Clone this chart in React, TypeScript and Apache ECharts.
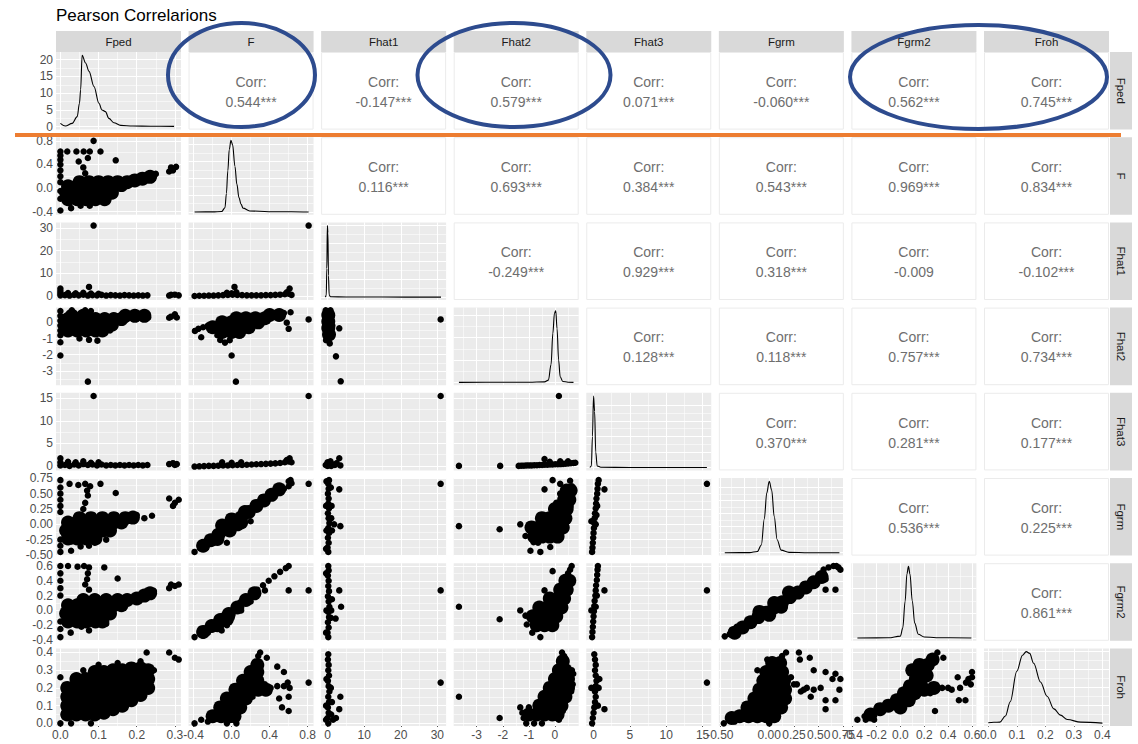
import React, { useEffect, useRef } from 'react';
import * as echarts from 'echarts';

// ---------------- data ----------------
const VARS = ['Fped', 'F', 'Fhat1', 'Fhat2', 'Fhat3', 'Fgrm', 'Fgrm2', 'Froh'];
const AXIS_MIN = [-0.0115, -0.453, -1.75, -3.88, -1.0, -0.51, -0.41, -0.015];
const AXIS_MAX = [0.316, 0.862, 32.4, 0.91, 16.2, 0.755, 0.637, 0.423];
const MAJOR_BREAKS = [
  [0, 0.1, 0.2, 0.3],
  [-0.4, 0, 0.4, 0.8],
  [0, 10, 20, 30],
  [-3, -2, -1, 0],
  [0, 5, 10, 15],
  [-0.5, -0.25, 0, 0.25, 0.5, 0.75],
  [-0.4, -0.2, 0, 0.2, 0.4, 0.6],
  [0, 0.1, 0.2, 0.3, 0.4],
];
const MINOR_BREAKS = [
  [0.05, 0.15, 0.25],
  [-0.2, 0.2, 0.6],
  [5, 15, 25],
  [-3.5, -2.5, -1.5, -0.5, 0.5],
  [2.5, 7.5, 12.5],
  [-0.375, -0.125, 0.125, 0.375, 0.625],
  [-0.3, -0.1, 0.1, 0.3, 0.5],
  [0.05, 0.15, 0.25, 0.35],
];
const TICK_LABELS = [
  ['0.0', '0.1', '0.2', '0.3'],
  ['-0.4', '0.0', '0.4', '0.8'],
  ['0', '10', '20', '30'],
  ['-3', '-2', '-1', '0'],
  ['0', '5', '10', '15'],
  ['-0.50', '-0.25', '0.00', '0.25', '0.50', '0.75'],
  ['-0.4', '-0.2', '0.0', '0.2', '0.4', '0.6'],
  ['0.0', '0.1', '0.2', '0.3', '0.4'],
];
const DENS_MAJOR = [[0, 5, 10, 15, 20], [0, 2, 4, 6, 8], [0, 0.5, 1, 1.5, 2], [0, 1, 2, 3], [0, 0.5, 1, 1.5, 2], [0, 1, 2, 3, 4, 5], [0, 2, 4], [0, 2, 4, 6, 8]];
const DENS_MINOR = [[2.5, 7.5, 12.5, 17.5], [1, 3, 5, 7], [0.25, 0.75, 1.25, 1.75], [0.5, 1.5, 2.5], [0.25, 0.75, 1.25, 1.75], [0.5, 1.5, 2.5, 3.5, 4.5], [1, 3, 5], [1, 3, 5, 7]];
const FPED_DENS_LABELS = ['0', '5', '10', '15', '20'];

// correlations (row variable, column variable)
const CORR_ROW0 = ['0.544***', '-0.147***', '0.579***', '0.071***', '-0.060***', '0.562***', '0.745***'];
const CORR_ROW1 = ['0.116***', '0.693***', '0.384***', '0.543***', '0.969***', '0.834***'];
const CORR_ROW2 = ['-0.249***', '0.929***', '0.318***', '-0.009', '-0.102***'];
const CORR_ROW3 = ['0.128***', '0.118***', '0.757***', '0.734***'];
const CORR_ROW4 = ['0.370***', '0.281***', '0.177***'];
const CORR_ROW5 = ['0.536***', '0.225***'];
const CORR_ROW6 = ['0.861***'];

// densities
const DENS_FPED = [[0, 1.0], [0.013, 0.2], [0.031, 1.0], [0.044, 3.0], [0.05, 7], [0.053, 11], [0.057, 21.3], [0.066, 19], [0.075, 16.5], [0.088, 12], [0.101, 7], [0.109, 5], [0.118, 4.5], [0.127, 2.5], [0.14, 1.2], [0.158, 0.4], [0.19, 0.2], [0.237, 0.15], [0.298, 0.1]];
const DENS_F = [[-0.39, 0], [-0.2, 0.01], [-0.105, 0.05], [-0.07, 0.5], [-0.055, 2.2], [-0.04, 4.9], [-0.025, 7.4], [-0.007, 8.5], [0.01, 8.0], [0.035, 5.4], [0.055, 3.3], [0.077, 1.7], [0.1, 0.9], [0.12, 0.45], [0.19, 0.12], [0.39, 0.03], [0.63, 0.03], [0.81, 0]];
const DENS_FHAT1 = [[-0.6, 0], [-0.35, 0.05], [-0.2, 0.8], [-0.05, 2.0], [0.1, 1.8], [0.25, 0.6], [0.45, 0.06], [0.8, 0.01], [5, 0.004], [15, 0.002], [31, 0]];
const DENS_FHAT2 = [[-3.68, 0], [-2, 0.002], [-1, 0.004], [-0.4, 0.02], [-0.25, 0.1], [-0.15, 0.8], [-0.08, 2.2], [-0.02, 3.1], [0.03, 3.2], [0.08, 2.4], [0.14, 1.0], [0.2, 0.25], [0.3, 0.04], [0.5, 0.005], [0.71, 0]];
const DENS_FHAT3 = [[-0.5, 0], [-0.3, 0.05], [-0.15, 1.0], [0, 2.3], [0.15, 1.8], [0.3, 0.5], [0.5, 0.05], [1, 0.01], [5, 0.003], [15.6, 0]];
const DENS_FGRM = [[-0.45, 0], [-0.2, 0.01], [-0.12, 0.1], [-0.08, 0.6], [-0.05, 2.6], [-0.025, 4.6], [0, 5.5], [0.025, 4.8], [0.05, 2.8], [0.08, 1.0], [0.12, 0.2], [0.2, 0.03], [0.4, 0.0], [0.71, 0]];
const DENS_FGRM2 = [[-0.36, 0], [-0.1, 0.01], [0, 0.15], [0.02, 0.8], [0.04, 3.0], [0.055, 5.2], [0.068, 5.8], [0.08, 5.2], [0.1, 3.0], [0.12, 1.2], [0.15, 0.3], [0.2, 0.08], [0.3, 0.02], [0.595, 0]];
const DENS_FROH = [[0, 0.05], [0.02, 0.1], [0.041, 0.11], [0.06, 0.8], [0.077, 2.4], [0.1, 5.8], [0.12, 7.6], [0.133, 8], [0.145, 7.8], [0.159, 6.7], [0.183, 4.6], [0.206, 3.0], [0.23, 1.6], [0.253, 0.9], [0.277, 0.4], [0.324, 0.11], [0.4, 0]];

// scatter points: PTS_<y>_<x> (single points), CORE_<y>_<x> (dense interior)
const PTS_F_FPED = [[0, 0.62], [0, 0.55], [0, 0.48], [0, 0.4], [0, 0.3], [0, 0.2], [0, 0.1], [0, -0.05], [0, -0.18], [0, -0.38], [0.018, 0.62], [0.042, 0.62], [0.061, 0.62], [0.077, 0.62], [0.105, 0.62], [0.087, 0.8], [0.072, 0.51], [0.048, 0.45], [0.06, 0.35], [0.065, 0.25], [0.145, 0.47], [0.028, -0.34], [0.053, -0.3], [0.077, -0.3], [0.04, -0.22], [0.29, 0.35], [0.295, 0.3], [0.303, 0.36], [0.285, 0.28], [0.25, 0.24], [0.235, 0.25], [0.22, 0.2], [0.2, 0.14], [0.18, 0.1], [0.16, 0.06], [0.12, -0.12], [0.1, -0.2]];
const CORE_F_FPED = [[0.02, -0.19], [0.044, -0.19], [0.068, -0.19], [0.092, -0.19], [0.116, -0.19], [0.015, -0.08], [0.04, -0.08], [0.064, -0.08], [0.088, -0.08], [0.112, -0.08], [0.135, -0.08], [0.02, 0.03], [0.044, 0.03], [0.068, 0.03], [0.092, 0.03], [0.116, 0.03], [0.14, 0.03], [0.16, 0.05], [0.05, 0.1], [0.075, 0.1], [0.1, 0.1], [0.125, 0.1], [0.15, 0.1], [0.175, 0.1], [0.195, 0.13], [0.215, 0.16], [0.235, 0.19]];

const PTS_FHAT1_FPED = [[0, 0.3], [0, 1.2], [0, 2.2], [0, 3.3], [0.012, 0.4], [0.024, 0.2], [0.036, 0.5], [0.048, 0.3], [0.06, 0.6], [0.072, 0.2], [0.084, 0.4], [0.096, 0.3], [0.108, 0.5], [0.12, 0.2], [0.132, 0.4], [0.144, 0.3], [0.156, 0.2], [0.168, 0.4], [0.18, 0.3], [0.192, 0.2], [0.204, 0.3], [0.216, 0.2], [0.228, 0.3], [0.02, 1.3], [0.04, 1.2], [0.06, 1.4], [0.08, 1.1], [0.1, 1.0], [0.075, 4.0], [0.087, 31], [0.285, 0.2], [0.29, 0.5], [0.3, 0.6], [0.31, 0.3]];
const PTS_FHAT1_F = [[-0.39, 0.0], [-0.34, 0.1], [-0.29, 0.1], [-0.24, 0.2], [-0.19, 0.2], [-0.14, 0.3], [-0.09, 0.4], [-0.04, 0.5], [0.01, 0.6], [0.06, 0.5], [0.11, 0.4], [0.16, 0.3], [0.21, 0.3], [0.26, 0.3], [0.31, 0.3], [0.36, 0.4], [0.41, 0.4], [0.46, 0.5], [0.51, 0.6], [0.56, 0.8], [0.6, 1.0], [0.63, 0.5], [-0.05, 1.4], [0.05, 1.6], [0.0, 1.2], [0.58, 1.6], [0.03, 4.0], [0.61, 3.3], [0.81, 31]];

const PTS_FHAT2_FPED = [[0, 0.7], [0, 0.4], [0, 0.1], [0, -0.2], [0, -0.5], [0, -0.8], [0, -1.23], [0, -2.05], [0.072, -3.66], [0.097, -1.13], [0.075, -1.08], [0.05, -1.0], [0.03, 0.75], [0.065, 0.75], [0.08, 0.7], [0.06, 0.6], [0.29, 0.35], [0.3, 0.5], [0.305, 0.3], [0.285, 0.28], [0.23, 0.3], [0.22, 0.38], [0.2, 0.22], [0.13, -0.5], [0.11, -0.7]];
const CORE_FHAT2_FPED = [[0.02, -0.5], [0.044, -0.5], [0.068, -0.5], [0.092, -0.5], [0.11, -0.5], [0.02, -0.15], [0.044, -0.15], [0.068, -0.15], [0.092, -0.15], [0.116, -0.15], [0.135, -0.15], [0.02, 0.2], [0.044, 0.2], [0.068, 0.2], [0.092, 0.2], [0.116, 0.2], [0.14, 0.2], [0.16, 0.2], [0.03, 0.4], [0.06, 0.4], [0.17, 0.4], [0.195, 0.4], [0.22, 0.4]];
const PTS_FHAT2_F = [[-0.386, -0.53], [-0.32, -0.92], [-0.12, -1.09], [-0.07, -1.25], [-0.02, -1.1], [0.0, -2.05], [0.045, -3.66], [0.81, 0.18], [0.58, -0.02], [0.6, -0.4], [0.62, 0.62], [0.55, 0.58], [0.45, 0.5], [0.35, 0.45], [-0.25, -0.2], [-0.3, -0.3], [-0.15, -0.8], [0.1, -0.8], [0.15, -0.5], [-0.35, -0.4]];
const CORE_FHAT2_F = [[-0.1, -0.6], [0.0, -0.6], [0.08, -0.6], [-0.2, -0.3], [-0.1, -0.3], [0.0, -0.3], [0.1, -0.3], [0.18, -0.3], [-0.1, 0.0], [0.0, 0.0], [0.1, 0.0], [0.2, 0.0], [0.28, 0.0], [0.05, 0.25], [0.15, 0.25], [0.25, 0.25], [0.35, 0.25], [0.4, 0.45], [0.5, 0.45]];
const PTS_FHAT2_FHAT1 = [[-0.5, 0.75], [0.8, 0.75], [1.2, 0.4], [1.3, -0.2], [0.6, -1.3], [-0.4, -1.1], [1.0, -0.9], [30.9, 0.18], [3.2, -0.37], [2.3, -2.1], [3.6, -3.64]];
const CORE_FHAT2_FHAT1 = [[0.2, 0.45], [0.2, 0.05], [0.2, -0.35], [0.4, -0.75]];

const PTS_FHAT3_FPED = [[0, 0.1], [0, 0.8], [0, 1.7], [0.012, 0.2], [0.024, 0.0], [0.036, 0.3], [0.048, 0.1], [0.06, 0.4], [0.072, 0.2], [0.084, 0.3], [0.096, 0.1], [0.108, 0.3], [0.12, 0.1], [0.132, 0.2], [0.144, 0.1], [0.156, 0.2], [0.168, 0.1], [0.18, 0.2], [0.192, 0.1], [0.204, 0.2], [0.216, 0.1], [0.228, 0.2], [0.02, 0.9], [0.04, 0.8], [0.06, 1.0], [0.08, 0.7], [0.1, 0.8], [0.087, 15.5], [0.285, 0.4], [0.295, 0.6], [0.305, 0.4], [0.3, 0.2]];
const PTS_FHAT3_F = [[-0.39, -0.15], [-0.34, -0.1], [-0.29, -0.05], [-0.24, 0.0], [-0.19, 0.0], [-0.14, 0.05], [-0.09, 0.1], [-0.04, 0.1], [0.01, 0.15], [0.06, 0.2], [0.11, 0.2], [0.16, 0.25], [0.21, 0.3], [0.26, 0.35], [0.31, 0.4], [0.36, 0.45], [0.41, 0.5], [0.46, 0.55], [0.51, 0.65], [0.56, 0.8], [0.6, 1.0], [0.61, 1.7], [0.58, 1.3], [0.63, 0.8], [-0.1, 0.8], [0.0, 0.7], [0.1, 0.8], [0.81, 15.5]];
const PTS_FHAT3_FHAT1 = [[-0.5, 0.2], [0, 0], [0.5, 0.5], [1, 0], [1.5, 0.3], [0, 0.8], [0.8, 1.0], [2, 0.2], [2.5, 0.6], [3.2, 1.7], [3.5, 0.1], [30.9, 15.5]];
const PTS_FHAT3_FHAT2 = [[-3.68, 0], [-2.1, 0], [-1.39, 0.0], [-1.29, 0.05], [-1.19, 0.05], [-1.09, 0.1], [-0.99, 0.1], [-0.89, 0.1], [-0.79, 0.15], [-0.69, 0.15], [-0.59, 0.2], [-0.49, 0.2], [-0.39, 0.25], [-0.29, 0.25], [-0.19, 0.3], [-0.09, 0.3], [0.01, 0.35], [0.11, 0.35], [0.21, 0.4], [0.31, 0.45], [0.41, 0.5], [0.51, 0.55], [0.61, 0.6], [0.71, 0.65], [0.78, 0.7], [-0.4, 1.5], [-0.2, 0.9], [0.2, 1.0], [0.5, 1.0], [0.15, 15.5]];

const PTS_FGRM_FPED = [[0, 0.72], [0, 0.6], [0, 0.5], [0, 0.4], [0, 0.3], [0, 0.2], [0, -0.25], [0, -0.35], [0, -0.45], [0.024, 0.66], [0.047, 0.64], [0.065, 0.66], [0.078, 0.62], [0.105, 0.66], [0.145, 0.51], [0.072, 0.47], [0.07, 0.55], [0.065, 0.35], [0.06, 0.25], [0.028, -0.43], [0.03, -0.28], [0.053, -0.36], [0.075, -0.35], [0.09, -0.3], [0.285, 0.42], [0.295, 0.3], [0.31, 0.4], [0.3, 0.35], [0.24, 0.14], [0.22, 0.1], [0.2, 0.15], [0.12, -0.25]];
const CORE_FGRM_FPED = [[0.02, -0.23], [0.044, -0.23], [0.068, -0.23], [0.092, -0.23], [0.015, -0.1], [0.04, -0.1], [0.064, -0.1], [0.088, -0.1], [0.112, -0.1], [0.13, -0.1], [0.02, 0.03], [0.044, 0.03], [0.068, 0.03], [0.092, 0.03], [0.116, 0.03], [0.14, 0.03], [0.16, 0.03], [0.05, 0.1], [0.08, 0.1], [0.11, 0.1], [0.14, 0.1], [0.17, 0.1], [0.19, 0.11]];
const PTS_FGRM_F = [[-0.39, -0.45], [-0.33, -0.39], [-0.3, -0.3], [-0.2, -0.3], [-0.05, -0.3], [0.81, 0.66], [0.6, 0.7], [0.63, 0.67], [0.6, 0.62], [0.55, 0.58], [0.45, 0.5], [0.35, 0.42], [0.62, 0.72], [0.2, 0.05]];
const CORE_FGRM_F = [[-0.3, -0.35], [-0.22, -0.26], [-0.14, -0.17], [-0.06, -0.08], [0.02, 0.02], [0.1, 0.11], [0.18, 0.2], [0.26, 0.3], [0.34, 0.39], [0.42, 0.48], [0.5, 0.57], [-0.1, -0.02], [-0.02, -0.1], [0.06, 0.0], [0.0, 0.08], [0.1, 0.03], [0.14, 0.2], [-0.15, -0.24]];
const PTS_FGRM_FHAT1 = [[0.2, -0.45], [0.0, -0.38], [0.3, -0.3], [0.1, -0.22], [0.4, -0.14], [0.2, -0.06], [0.5, 0.02], [0.3, 0.1], [0.1, 0.18], [0.4, 0.26], [0.2, 0.34], [0.3, 0.42], [0.1, 0.5], [0.3, 0.58], [0.2, 0.66], [0.4, 0.72], [-0.3, 0.7], [-0.4, 0.3], [-0.3, -0.1], [-0.4, -0.4], [1.0, 0.1], [1.2, -0.1], [1.1, 0.3], [0.9, 0.6], [3.2, 0.57], [3.5, -0.03], [1.8, 0.0], [30.9, 0.66]];
const PTS_FGRM_FHAT2 = [[-3.68, -0.03], [-2.12, -0.08], [-1.33, 0.0], [-1.13, -0.19], [-0.82, -0.29], [-0.94, -0.43], [-0.56, -0.45], [-0.18, -0.37], [-0.09, 0.72], [0.2, 0.66], [0.58, 0.71], [0.65, 0.62], [0.7, 0.55], [-0.4, 0.57], [0.6, 0.3], [0.45, 0.2], [0.3, -0.1], [-0.65, -0.3], [0.2, 0.5], [0.05, 0.35]];
const CORE_FGRM_FHAT2 = [[-0.8, -0.2], [-0.5, -0.2], [-0.2, -0.2], [0.1, -0.2], [-0.9, -0.05], [-0.6, -0.05], [-0.3, -0.05], [0.0, -0.05], [0.3, -0.05], [-0.5, 0.1], [-0.2, 0.1], [0.1, 0.1], [0.4, 0.1], [0.0, 0.25], [0.25, 0.25], [0.45, 0.25], [0.35, 0.4], [0.55, 0.4], [0.45, 0.55], [0.6, 0.55]];
const PTS_FGRM_FHAT3 = [[-0.2, -0.45], [-0.15, -0.38], [-0.1, -0.3], [-0.05, -0.22], [0.0, -0.14], [0.05, -0.06], [0.1, 0.02], [0.15, 0.1], [0.2, 0.18], [0.3, 0.26], [0.35, 0.34], [0.4, 0.42], [0.5, 0.5], [0.55, 0.58], [0.6, 0.66], [0.7, 0.72], [0.3, 0.0], [-0.3, 0.05], [0.4, 0.15], [0.5, 0.3], [1.5, 0.57], [15.6, 0.66]];

const PTS_FGRM2_FPED = [[0, 0.6], [0, 0.5], [0, 0.4], [0, 0.3], [0, 0.2], [0, -0.15], [0, -0.25], [0, -0.36], [0.02, 0.6], [0.045, 0.59], [0.062, 0.6], [0.075, 0.58], [0.115, 0.58], [0.072, 0.5], [0.15, 0.43], [0.07, 0.42], [0.065, 0.35], [0.075, 0.28], [0.027, -0.3], [0.055, -0.22], [0.075, -0.27], [0.29, 0.35], [0.3, 0.33], [0.31, 0.35], [0.285, 0.3], [0.245, 0.26], [0.23, 0.22], [0.21, 0.2], [0.12, -0.18]];
const CORE_FGRM2_FPED = [[0.02, -0.15], [0.044, -0.15], [0.068, -0.15], [0.092, -0.15], [0.11, -0.15], [0.015, -0.04], [0.04, -0.04], [0.064, -0.04], [0.088, -0.04], [0.112, -0.04], [0.13, -0.04], [0.02, 0.07], [0.044, 0.07], [0.068, 0.07], [0.092, 0.07], [0.116, 0.07], [0.14, 0.07], [0.16, 0.07], [0.06, 0.14], [0.09, 0.14], [0.12, 0.14], [0.15, 0.14], [0.175, 0.14], [0.2, 0.16], [0.22, 0.2], [0.235, 0.23]];
const PTS_FGRM2_F = [[-0.39, -0.36], [-0.33, -0.3], [-0.27, -0.24], [-0.21, -0.18], [-0.15, -0.13], [-0.09, -0.07], [-0.03, -0.01], [0.03, 0.05], [0.09, 0.11], [0.15, 0.17], [0.21, 0.22], [0.27, 0.28], [0.33, 0.34], [0.39, 0.4], [0.45, 0.46], [0.51, 0.52], [0.57, 0.57], [0.6, 0.6], [-0.25, -0.3], [-0.2, -0.25], [-0.105, -0.27], [-0.05, -0.2], [0.0, -0.1], [0.1, 0.0], [0.2, 0.12], [0.35, 0.27], [0.81, 0.27], [0.6, 0.27], [-0.3, -0.34]];
const CORE_FGRM2_F = [[-0.3, -0.29], [-0.21, -0.21], [-0.12, -0.13], [-0.03, -0.05], [0.06, 0.04], [0.15, 0.14], [0.24, 0.23], [-0.15, -0.2], [-0.05, -0.12]];
const PTS_FGRM2_FHAT1 = [[0.2, -0.36], [0.0, -0.3], [0.3, -0.23], [0.1, -0.16], [0.4, -0.09], [0.2, -0.02], [0.5, 0.05], [0.3, 0.12], [0.1, 0.19], [0.4, 0.26], [0.2, 0.33], [0.3, 0.4], [0.1, 0.47], [0.3, 0.54], [0.2, 0.6], [-0.4, 0.5], [-0.3, 0.0], [-0.4, -0.3], [1.0, 0.0], [1.2, 0.15], [0.9, -0.1], [3.2, 0.27], [3.7, 0.05], [2.2, -0.11], [30.9, 0.27]];
const PTS_FGRM2_FHAT2 = [[-3.68, 0.05], [-2.12, -0.12], [-0.4, 0.27], [-0.09, 0.53], [0.64, 0.6], [0.58, 0.55], [0.5, 0.5], [0.35, 0.4], [-1.33, 0.0], [-1.13, -0.07], [-1.08, -0.19], [-0.87, -0.3], [-0.56, -0.36], [-0.18, -0.23], [-0.7, -0.25], [0.3, 0.1], [0.55, 0.35]];
const CORE_FGRM2_FHAT2 = [[-0.7, -0.2], [-0.4, -0.2], [-0.1, -0.2], [-0.85, -0.08], [-0.55, -0.08], [-0.25, -0.08], [0.05, -0.08], [-0.6, 0.04], [-0.3, 0.04], [0.0, 0.04], [0.25, 0.04], [-0.2, 0.16], [0.1, 0.16], [0.35, 0.16], [0.2, 0.28], [0.45, 0.28], [0.4, 0.4], [0.55, 0.4]];
const PTS_FGRM2_FHAT3 = [[-0.2, -0.36], [-0.15, -0.29], [-0.1, -0.22], [-0.05, -0.15], [0.0, -0.08], [0.05, -0.01], [0.1, 0.06], [0.15, 0.13], [0.25, 0.2], [0.3, 0.27], [0.35, 0.34], [0.45, 0.41], [0.5, 0.48], [0.55, 0.55], [0.6, 0.6], [0.3, 0.05], [-0.3, 0.0], [0.45, 0.2], [1.5, 0.27], [15.6, 0.27]];
const PTS_FGRM2_FGRM = [[-0.45, -0.35], [-0.4, -0.32], [-0.38, -0.27], [-0.3, -0.27], [-0.33, -0.22], [0.4, 0.33], [0.45, 0.38], [0.5, 0.43], [0.55, 0.5], [0.57, 0.42], [0.67, 0.28], [0.57, 0.28], [0.6, 0.58], [0.65, 0.6], [0.7, 0.58], [0.72, 0.55], [0.68, 0.6], [0.55, 0.55], [0.35, 0.3], [0.25, 0.23]];
const CORE_FGRM2_FGRM = [[-0.35, -0.3], [-0.27, -0.23], [-0.19, -0.16], [-0.11, -0.09], [-0.03, -0.03], [0.05, 0.04], [0.13, 0.11], [0.21, 0.18], [0.29, 0.24], [0.37, 0.31], [0.45, 0.38], [0.53, 0.45], [-0.1, -0.02], [0.0, -0.06], [0.05, 0.1], [0.12, 0.05], [0.2, 0.24]];

const PTS_FROH_FPED = [[0, 0.0], [0, 0.26], [0.028, 0.0], [0.08, 0.0], [0.285, 0.4], [0.3, 0.37], [0.31, 0.36], [0.245, 0.3], [0.226, 0.4], [0.21, 0.35], [0.06, 0.3], [0.1, 0.33], [0.15, 0.34]];
const CORE_FROH_FPED = [[0.018, 0.05], [0.018, 0.1], [0.018, 0.15], [0.018, 0.2], [0.042, 0.05], [0.042, 0.1], [0.042, 0.15], [0.042, 0.2], [0.042, 0.25], [0.066, 0.05], [0.066, 0.1], [0.066, 0.15], [0.066, 0.2], [0.066, 0.25], [0.09, 0.05], [0.09, 0.1], [0.09, 0.15], [0.09, 0.2], [0.09, 0.25], [0.09, 0.29], [0.114, 0.06], [0.114, 0.11], [0.114, 0.16], [0.114, 0.21], [0.114, 0.26], [0.114, 0.29], [0.138, 0.08], [0.138, 0.13], [0.138, 0.18], [0.138, 0.23], [0.138, 0.28], [0.138, 0.3], [0.162, 0.1], [0.162, 0.15], [0.162, 0.2], [0.162, 0.25], [0.162, 0.3], [0.186, 0.13], [0.186, 0.18], [0.186, 0.23], [0.186, 0.28], [0.186, 0.31], [0.21, 0.16], [0.21, 0.21], [0.21, 0.26], [0.21, 0.31], [0.23, 0.2], [0.23, 0.25], [0.23, 0.3]];
const PTS_FROH_F = [[-0.39, 0.0], [-0.32, 0.02], [-0.25, 0.01], [-0.05, 0.0], [0.05, 0.0], [0.81, 0.23], [0.37, 0.37], [0.48, 0.32], [0.55, 0.29], [0.59, 0.23], [0.61, 0.2], [0.53, 0.09], [0.6, 0.07], [0.28, 0.21], [0.41, 0.2], [0.48, 0.21], [0.3, 0.4], [0.28, 0.38], [0.35, 0.22], [0.22, 0.15], [0.3, 0.18], [0.55, 0.21], [0.6, 0.15], [0.5, 0.14]];
const CORE_FROH_F = [[-0.2, 0.04], [-0.11, 0.04], [-0.02, 0.04], [0.03, 0.04], [-0.12, 0.09], [-0.03, 0.09], [0.06, 0.09], [0.09, 0.09], [-0.05, 0.14], [0.04, 0.14], [0.13, 0.14], [0.15, 0.14], [0.04, 0.19], [0.12, 0.19], [0.2, 0.19], [0.28, 0.19], [0.36, 0.19], [0.12, 0.24], [0.2, 0.24], [0.27, 0.24], [0.2, 0.29], [0.27, 0.29], [0.27, 0.33]];
const PTS_FROH_FHAT1 = [[0.2, 0.0], [0.0, 0.03], [0.3, 0.06], [0.1, 0.09], [0.4, 0.12], [0.2, 0.15], [0.5, 0.18], [0.3, 0.21], [0.1, 0.24], [0.4, 0.27], [0.2, 0.3], [0.3, 0.33], [0.1, 0.36], [0.2, 0.39], [-0.4, 0.1], [-0.3, 0.25], [-0.4, 0.02], [1.0, 0.05], [1.2, 0.12], [0.9, 0.2], [1.5, 0.02], [3.5, 0.15], [3.2, 0.08], [2.3, 0.03], [30.9, 0.23]];
const PTS_FROH_FHAT2 = [[-3.68, 0.15], [-2.12, 0.03], [-1.33, 0.09], [-1.1, 0.0], [-1.2, 0.03], [-1.25, 0.06], [-1.0, 0.09], [0.27, 0.4], [0.65, 0.3], [0.7, 0.28], [0.68, 0.22], [0.62, 0.18], [0.6, 0.26], [0.55, 0.23], [0.45, 0.25], [0.35, 0.38], [0.5, 0.15], [0.3, 0.07], [-0.8, 0.0], [-0.5, 0.0], [0.15, 0.02]];
const CORE_FROH_FHAT2 = [[-1.0, 0.05], [-0.7, 0.05], [-0.4, 0.05], [-0.1, 0.05], [0.1, 0.05], [-0.6, 0.1], [-0.3, 0.1], [0.0, 0.1], [0.25, 0.1], [-0.4, 0.15], [-0.1, 0.15], [0.2, 0.15], [0.4, 0.15], [-0.2, 0.2], [0.1, 0.2], [0.35, 0.2], [0.5, 0.2], [0.0, 0.25], [0.25, 0.25], [0.5, 0.25], [0.15, 0.3], [0.4, 0.3], [0.3, 0.35]];
const PTS_FROH_FHAT3 = [[-0.2, 0.0], [-0.1, 0.03], [0.0, 0.06], [0.1, 0.09], [0.2, 0.12], [0.3, 0.15], [0.2, 0.18], [0.3, 0.21], [0.4, 0.24], [0.3, 0.27], [0.2, 0.3], [0.3, 0.33], [0.2, 0.36], [0.1, 0.39], [0.7, 0.2], [0.8, 0.25], [-0.3, 0.2], [0.6, 0.1], [1.5, 0.08], [15.6, 0.23]];
const PTS_FROH_FGRM = [[0.3, 0.4], [0.31, 0.36], [0.41, 0.37], [0.45, 0.3], [0.57, 0.29], [0.67, 0.28], [0.64, 0.25], [0.72, 0.25], [0.71, 0.19], [0.67, 0.13], [0.57, 0.13], [0.57, 0.08], [0.42, 0.15], [0.35, 0.19], [0.52, 0.2], [-0.46, 0.0], [-0.4, 0.02], [-0.35, 0.01], [0.17, 0.4], [0.13, 0.38], [0.22, 0.26], [0.25, 0.22], [0.19, 0.13], [0.08, 0.03], [0.0, 0.0], [-0.12, 0.3], [-0.02, 0.36], [0.28, 0.22], [0.32, 0.18], [0.38, 0.2], [0.45, 0.19]];
const CORE_FROH_FGRM = [[-0.38, 0.03], [-0.3, 0.04], [-0.21, 0.04], [-0.12, 0.04], [-0.03, 0.04], [0.05, 0.04], [-0.22, 0.09], [-0.13, 0.09], [-0.04, 0.09], [0.05, 0.09], [0.12, 0.09], [-0.15, 0.14], [-0.06, 0.14], [0.03, 0.14], [0.12, 0.14], [0.16, 0.14], [-0.1, 0.19], [-0.01, 0.19], [0.08, 0.19], [0.16, 0.19], [-0.06, 0.24], [0.03, 0.24], [0.12, 0.24], [0.15, 0.24], [-0.03, 0.29], [0.06, 0.29], [0.13, 0.29], [0.03, 0.34], [0.11, 0.34]];
const PTS_FROH_FGRM2 = [[-0.36, 0.02], [-0.29, 0.02], [-0.22, 0.02], [-0.3, 0.04], [0.31, 0.4], [0.36, 0.37], [0.29, 0.07], [0.49, 0.13], [0.6, 0.29], [0.59, 0.22], [0.57, 0.25], [0.545, 0.13], [0.43, 0.19], [0.48, 0.26], [0.3, 0.19], [0.35, 0.2], [0.4, 0.2], [0.25, 0.17], [0.5, 0.2], [0.6, 0.26], [0.55, 0.23]];
const CORE_FROH_FGRM2 = [[-0.25, 0.05], [-0.17, 0.08], [-0.1, 0.1], [-0.03, 0.13], [0.03, 0.17], [0.08, 0.21], [0.13, 0.25], [0.18, 0.29], [0.23, 0.33], [0.27, 0.36], [0.0, 0.09], [0.07, 0.13], [0.12, 0.17], [0.17, 0.22], [0.2, 0.19], [0.28, 0.2], [0.1, 0.3], [0.16, 0.33], [0.22, 0.27]];

// ---------------- assembly ----------------
const DENSITIES = [DENS_FPED, DENS_F, DENS_FHAT1, DENS_FHAT2, DENS_FHAT3, DENS_FGRM, DENS_FGRM2, DENS_FROH];
const CORR_ROWS = [CORR_ROW0, CORR_ROW1, CORR_ROW2, CORR_ROW3, CORR_ROW4, CORR_ROW5, CORR_ROW6];
const SCATTER: Record<string, { pts: number[][]; core?: number[][] }> = {
  '1-0': { pts: PTS_F_FPED, core: CORE_F_FPED },
  '2-0': { pts: PTS_FHAT1_FPED },
  '2-1': { pts: PTS_FHAT1_F },
  '3-0': { pts: PTS_FHAT2_FPED, core: CORE_FHAT2_FPED },
  '3-1': { pts: PTS_FHAT2_F, core: CORE_FHAT2_F },
  '3-2': { pts: PTS_FHAT2_FHAT1, core: CORE_FHAT2_FHAT1 },
  '4-0': { pts: PTS_FHAT3_FPED },
  '4-1': { pts: PTS_FHAT3_F },
  '4-2': { pts: PTS_FHAT3_FHAT1 },
  '4-3': { pts: PTS_FHAT3_FHAT2 },
  '5-0': { pts: PTS_FGRM_FPED, core: CORE_FGRM_FPED },
  '5-1': { pts: PTS_FGRM_F, core: CORE_FGRM_F },
  '5-2': { pts: PTS_FGRM_FHAT1 },
  '5-3': { pts: PTS_FGRM_FHAT2, core: CORE_FGRM_FHAT2 },
  '5-4': { pts: PTS_FGRM_FHAT3 },
  '6-0': { pts: PTS_FGRM2_FPED, core: CORE_FGRM2_FPED },
  '6-1': { pts: PTS_FGRM2_F, core: CORE_FGRM2_F },
  '6-2': { pts: PTS_FGRM2_FHAT1 },
  '6-3': { pts: PTS_FGRM2_FHAT2, core: CORE_FGRM2_FHAT2 },
  '6-4': { pts: PTS_FGRM2_FHAT3 },
  '6-5': { pts: PTS_FGRM2_FGRM, core: CORE_FGRM2_FGRM },
  '7-0': { pts: PTS_FROH_FPED, core: CORE_FROH_FPED },
  '7-1': { pts: PTS_FROH_F, core: CORE_FROH_F },
  '7-2': { pts: PTS_FROH_FHAT1 },
  '7-3': { pts: PTS_FROH_FHAT2, core: CORE_FROH_FHAT2 },
  '7-4': { pts: PTS_FROH_FHAT3 },
  '7-5': { pts: PTS_FROH_FGRM, core: CORE_FROH_FGRM },
  '7-6': { pts: PTS_FROH_FGRM2, core: CORE_FROH_FGRM2 },
};

const FONT = '"Liberation Sans", Arial, Helvetica, sans-serif';
const COL_X0 = 56, COL_STEP = 132.57, PANEL_W = 125;
const ROW_Y0 = 52, ROW_STEP = 85.2, PANEL_H = 77.6;
const STRIP_H = 21, STRIP_W = 22;

function labelFor(breaks: number[], labels: string[]) {
  return (v: number) => {
    const k = breaks.findIndex((b) => Math.abs(b - v) < 1e-9);
    return k >= 0 ? labels[k] : '';
  };
}

function gridLines(g: number, xs: number[], ys: number[], width: number) {
  return {
    type: 'scatter', xAxisIndex: g, yAxisIndex: g, data: [], silent: true, z: 1,
    markLine: {
      silent: true, z: 1, zlevel: 0, symbol: ['none', 'none'], label: { show: false }, animation: false,
      lineStyle: { color: '#FFFFFF', width, type: 'solid', opacity: 1 },
      emphasis: { disabled: true },
      data: [...xs.map((v) => ({ xAxis: v })), ...ys.map((v) => ({ yAxis: v }))],
    },
  };
}

function buildOption() {
  const grid: any[] = [], xAxis: any[] = [], yAxis: any[] = [], series: any[] = [], graphic: any[] = [];
  let g = 0;
  for (let i = 0; i < 8; i++) {
    for (let j = 0; j < 8; j++) {
      const left = COL_X0 + j * COL_STEP;
      const top = ROW_Y0 + i * ROW_STEP;
      if (j > i) {
        graphic.push({ type: 'rect', shape: { x: left + 0.5, y: top + 0.5, width: PANEL_W - 1, height: PANEL_H - 1 }, style: { fill: '#FFFFFF', stroke: '#EBEBEB', lineWidth: 1 }, z: 1 });
        const cx = left + PANEL_W / 2, cy = top + PANEL_H / 2;
        const ts = { fill: '#6E6E6E', fontSize: 14, fontFamily: FONT, align: 'center', verticalAlign: 'middle', textAlign: 'center', textVerticalAlign: 'middle' };
        graphic.push({ type: 'text', x: cx, y: cy - 9, style: { ...ts, text: 'Corr:' }, z: 2 });
        graphic.push({ type: 'text', x: cx, y: cy + 11, style: { ...ts, text: CORR_ROWS[i][j - i - 1] }, z: 2 });
        continue;
      }
      grid.push({ left, top, width: PANEL_W, height: PANEL_H, show: true, backgroundColor: '#EBEBEB', borderWidth: 0 });
      const bottomRow = i === 7;
      xAxis.push({
        type: 'value', gridIndex: g, min: AXIS_MIN[j], max: AXIS_MAX[j],
        axisLine: { show: false }, splitLine: { show: false },
        axisTick: { show: bottomRow, customValues: MAJOR_BREAKS[j], length: 3.5, lineStyle: { color: '#333333', width: 1 } },
        axisLabel: { show: bottomRow, customValues: MAJOR_BREAKS[j], formatter: labelFor(MAJOR_BREAKS[j], TICK_LABELS[j]), color: '#4D4D4D', fontSize: 12, margin: 3, fontFamily: FONT, hideOverlap: false, showMinLabel: true, showMaxLabel: true },
      });
      const isDiag = i === j;
      let yMin: number, yMax: number, yMaj: number[], yMin2: number[];
      if (isDiag) {
        const peak = Math.max(...DENSITIES[i].map((p) => p[1]));
        yMin = -0.04 * peak; yMax = 1.045 * peak;
        yMaj = DENS_MAJOR[i]; yMin2 = DENS_MINOR[i];
      } else {
        yMin = AXIS_MIN[i]; yMax = AXIS_MAX[i];
        yMaj = MAJOR_BREAKS[i]; yMin2 = MINOR_BREAKS[i];
      }
      const leftCol = j === 0;
      const yLabels = isDiag ? FPED_DENS_LABELS : TICK_LABELS[i];
      yAxis.push({
        type: 'value', gridIndex: g, min: yMin, max: yMax,
        axisLine: { show: false }, splitLine: { show: false },
        axisTick: { show: leftCol, customValues: yMaj, length: 3.5, lineStyle: { color: '#333333', width: 1 } },
        axisLabel: { show: leftCol, customValues: yMaj, formatter: labelFor(yMaj, yLabels), color: '#4D4D4D', fontSize: 12, margin: 3, fontFamily: FONT, showMinLabel: true, showMaxLabel: true, hideOverlap: false },
      });
      series.push(gridLines(g, MINOR_BREAKS[j], yMin2, 0.55));
      series.push(gridLines(g, MAJOR_BREAKS[j], yMaj, 1.1));
      if (isDiag) {
        series.push({
          type: 'line', xAxisIndex: g, yAxisIndex: g, data: DENSITIES[i], showSymbol: false, symbol: 'none',
          smooth: 0.35, smoothMonotone: 'x', silent: true, z: 10,
          lineStyle: { color: '#000000', width: 1.1 },
        });
      } else {
        const s = SCATTER[`${i}-${j}`];
        if (s.core) {
          series.push({ type: 'scatter', xAxisIndex: g, yAxisIndex: g, data: s.core, symbolSize: 14, silent: true, z: 10, itemStyle: { color: '#000000', opacity: 1 } });
        }
        series.push({ type: 'scatter', xAxisIndex: g, yAxisIndex: g, data: s.pts, symbolSize: 6.5, silent: true, z: 11, itemStyle: { color: '#000000', opacity: 1 } });
      }
      g++;
    }
  }

  // strips
  for (let j = 0; j < 8; j++) {
    const left = COL_X0 + j * COL_STEP;
    graphic.push({ type: 'rect', shape: { x: left, y: ROW_Y0 - STRIP_H, width: PANEL_W, height: STRIP_H }, style: { fill: '#D9D9D9' }, z: 1 });
    graphic.push({ type: 'text', x: left + PANEL_W / 2, y: ROW_Y0 - STRIP_H / 2, style: { text: VARS[j], fill: '#1A1A1A', fontSize: 11.5, fontFamily: FONT, align: 'center', verticalAlign: 'middle', textAlign: 'center', textVerticalAlign: 'middle' }, z: 2 });
  }
  const stripX = COL_X0 + 7 * COL_STEP + PANEL_W + 1;
  for (let i = 0; i < 8; i++) {
    const top = ROW_Y0 + i * ROW_STEP;
    graphic.push({ type: 'rect', shape: { x: stripX, y: top, width: STRIP_W, height: PANEL_H }, style: { fill: '#D9D9D9' }, z: 1 });
    graphic.push({ type: 'text', x: stripX + STRIP_W / 2, y: top + PANEL_H / 2, rotation: -Math.PI / 2, style: { text: VARS[i], fill: '#1A1A1A', fontSize: 11.5, fontFamily: FONT, align: 'center', verticalAlign: 'middle', textAlign: 'center', textVerticalAlign: 'middle' }, z: 2 });
  }
  // title
  graphic.push({ type: 'text', x: 56, y: 15, style: { text: 'Pearson Correlarions', fill: '#000000', fontSize: 17, fontFamily: FONT, align: 'left', verticalAlign: 'middle', textAlign: 'left', textVerticalAlign: 'middle' }, z: 2 });
  // annotations
  graphic.push({ type: 'line', shape: { x1: 15, y1: 135, x2: 1121, y2: 135 }, style: { stroke: '#ED7D31', lineWidth: 4 }, z: 100 });
  const blue = { fill: 'none', stroke: '#2D4B8E', lineWidth: 4 };
  graphic.push({ type: 'ellipse', shape: { cx: 241.5, cy: 75, rx: 73.5, ry: 52 }, style: blue, z: 100 });
  graphic.push({ type: 'ellipse', shape: { cx: 514, cy: 75, rx: 96.5, ry: 52 }, style: blue, z: 100 });
  graphic.push({ type: 'ellipse', shape: { cx: 978.5, cy: 77, rx: 128.5, ry: 52 }, style: blue, z: 100 });

  return {
    animation: false,
    backgroundColor: '#FFFFFF',
    textStyle: { fontFamily: FONT },
    grid, xAxis, yAxis, series, graphic,
  };
}

export default function App() {
  const ref = useRef<HTMLDivElement>(null);
  useEffect(() => {
    document.body.style.margin = '0';
    if (!ref.current) return;
    const chart = echarts.init(ref.current, undefined, { renderer: 'svg' });
    chart.setOption(buildOption() as any);
    return () => chart.dispose();
  }, []);
  return <div ref={ref} style={{ width: 1138, height: 744 }} />;
}
